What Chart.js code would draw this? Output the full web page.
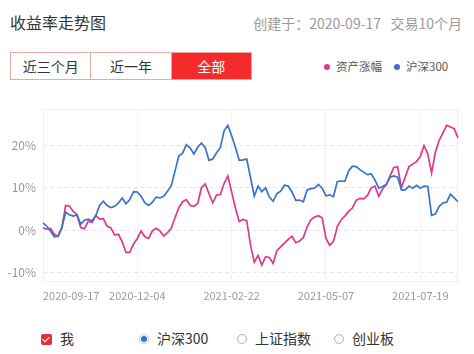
<!DOCTYPE html>
<html>
<head>
<meta charset="utf-8">
<script src="https://cdn.jsdelivr.net/npm/chart.js@4"></script>
<style>
body{margin:0;width:474px;height:354px;background:#fff;font-family:"Noto Sans CJK SC","Noto Sans",sans-serif;position:relative;overflow:hidden}
.abs{position:absolute;white-space:nowrap}
#title{left:10px;top:10px;font-size:16px;color:#333;line-height:24px}
#info{right:12px;top:11px;font-size:14px;color:#9a9a9a;line-height:24px}
#tabs{left:10px;top:52px;height:28px;display:flex;border:1px solid #e9a9a9;box-sizing:border-box;width:242px}
#tabs div{flex:1;text-align:center;font-size:14px;line-height:26px;color:#333}
#tabs div+div{border-left:1px solid #e9a9a9}
#tabs .on{background:#f52b2b;color:#fff}
.leg{top:58px;font-size:11.5px;color:#555;line-height:16px}
.dot{display:inline-block;width:6px;height:6px;border-radius:50%;margin-right:6px;vertical-align:1px}
#chartBox{left:0;top:95px;width:474px;height:230px}
.ctl{top:329px;font-size:14px;color:#333;line-height:18px}
.box{display:inline-block;width:11px;height:11px;background:#e0303a;border-radius:2px;position:relative;vertical-align:-1px;margin-right:8px}
.box:after{content:"";position:absolute;left:3px;top:1px;width:3px;height:6px;border:solid #fff;border-width:0 1.5px 1.5px 0;transform:rotate(45deg)}
.rad{display:inline-block;width:10px;height:10px;border-radius:50%;border:1px solid #9fb3d6;box-sizing:border-box;vertical-align:0;margin-right:8px;position:relative}
.rad.on{border-color:#b9cdef}
.rad.on:after{content:"";position:absolute;left:1px;top:1px;width:6px;height:6px;border-radius:50%;background:#2f6fd8}
</style>
</head>
<body>
<div class="abs" id="title">收益率走势图</div>
<div class="abs" id="info">创建于：2020-09-17&nbsp;&nbsp; 交易10个月</div>
<div class="abs" id="tabs"><div>近三个月</div><div>近一年</div><div class="on">全部</div></div>
<div class="abs leg" style="left:324px"><span class="dot" style="background:#e0378b"></span>资产涨幅</div>
<div class="abs leg" style="left:394px"><span class="dot" style="background:#3a72c8"></span>沪深300</div>
<div class="abs" id="chartBox"><canvas id="c" width="474" height="230"></canvas></div>
<div class="abs ctl" style="left:41px"><span class="box"></span>我</div>
<div class="abs ctl" style="left:139px"><span class="rad on"></span>沪深300</div>
<div class="abs ctl" style="left:237px"><span class="rad"></span>上证指数</div>
<div class="abs ctl" style="left:334px"><span class="rad"></span>创业板</div>
<script>
// every 2nd trading day from 2020-09-17
const tickDates=['2020-09-17','2020-12-04','2021-02-22','2021-05-07','2021-07-19'];
const tickEvery=25;
const assetVals=[0.5,0.2,0.4,-1.0,-1.5,0.5,5.8,5.7,4.4,3.7,
0.6,0.3,2.1,1.8,3.4,2.6,2.7,0.9,0.5,-1.2,
-1.0,-2.8,-5.3,-5.3,-3.3,-2.0,-0.2,-1.6,-2.0,-0.2,
0.4,-0.2,-1.4,-0.6,0.4,2.9,5.3,6.7,7.2,5.8,
5.6,6.3,10.0,10.9,8.6,6.4,8.3,8.4,11.0,12.8,
9.0,5.2,2.0,2.5,2.2,-3.5,-7.6,-6.0,-8.3,-6.3,
-6.5,-7.9,-4.9,-4.0,-3.1,-2.2,-1.5,-3.0,-2.6,-1.8,
0.7,2.4,3.1,3.4,2.9,-2.0,-3.6,-2.7,0.8,2.4,
3.3,4.4,5.2,7.0,7.5,7.4,8.2,10.0,10.4,8.0,
9.7,10.7,12.8,14.8,15.0,10.0,12.5,15.0,15.6,16.2,
17.4,20.0,18.0,13.5,18.4,21.2,23.0,24.8,24.4,24.0,21.8];
const hs300Vals=[1.7,0.9,-0.3,-1.6,-1.4,0.6,4.2,3.6,3.3,3.6,
1.4,2.3,2.6,2.2,3.4,5.8,6.8,5.8,5.3,5.6,
6.4,7.6,6.2,7.2,9.1,9.0,8.0,6.4,5.8,6.6,
7.8,7.6,8.0,9.2,10.5,14.0,17.5,18.2,20.2,19.4,
18.0,19.6,20.6,19.5,16.5,16.8,18.3,19.5,23.5,24.8,
22.3,19.6,16.5,16.6,16.8,12.5,8.0,10.4,9.1,10.0,
7.8,6.8,8.6,9.2,10.6,10.4,9.0,7.0,7.1,6.7,
9.5,9.8,9.9,10.8,9.9,8.1,8.3,7.9,11.5,11.6,
11.5,14.0,15.1,15.0,14.3,13.7,13.1,13.3,11.8,9.9,
10.3,10.8,12.5,12.8,12.5,9.5,9.5,10.4,9.9,10.6,
9.9,10.4,10.3,3.5,3.8,5.6,6.4,6.6,8.5,7.6,6.7];
const labels=assetVals.map((v,i)=>i%tickEvery===0?(tickDates[i/tickEvery]||''):'');

const frame={id:'frame',beforeDatasetsDraw(ch){const a=ch.chartArea,c=ch.ctx;c.save();c.strokeStyle='#efefef';c.lineWidth=1;c.strokeRect(a.left+0.5,a.top+0.5,a.width-1,a.height-1);c.restore();}};

new Chart(document.getElementById('c'),{
  type:'line',
  data:{labels,datasets:[
    {label:'沪深300',data:hs300Vals,borderColor:'#3a72c8',borderWidth:1.7,pointRadius:0,tension:0},
    {label:'资产涨幅',data:assetVals,borderColor:'#e0378b',borderWidth:1.7,pointRadius:0,tension:0}
  ]},
  options:{
    responsive:false,animation:false,
    layout:{padding:{top:11,right:16,left:0,bottom:0}},
    plugins:{legend:{display:false},tooltip:{enabled:false}},
    scales:{
      x:{
        afterFit(s){s.height=43;},
        grid:{drawTicks:false,color:c=>c.tick&&c.tick.label?'#f4f4f4':'rgba(0,0,0,0)'},
        border:{display:false},
        ticks:{autoSkip:false,maxRotation:0,minRotation:0,align:'inner',padding:7,color:'#9a9a9a',font:{size:11,family:'"Noto Sans CJK SC","Noto Sans"'}}
      },
      y:{
        min:-12.3,max:28.6,
        afterFit(s){s.width=43;},
        grid:{drawTicks:false,color:'#e6e6e6'},
        border:{display:false,dash:[4,3]},
        ticks:{stepSize:10,includeBounds:false,padding:7,color:'#9a9a9a',font:{size:12,family:'"Noto Sans CJK SC","Noto Sans"'},callback:v=>v+'%'}
      }
    }
  },
  plugins:[frame]
});
</script>
</body>
</html>
